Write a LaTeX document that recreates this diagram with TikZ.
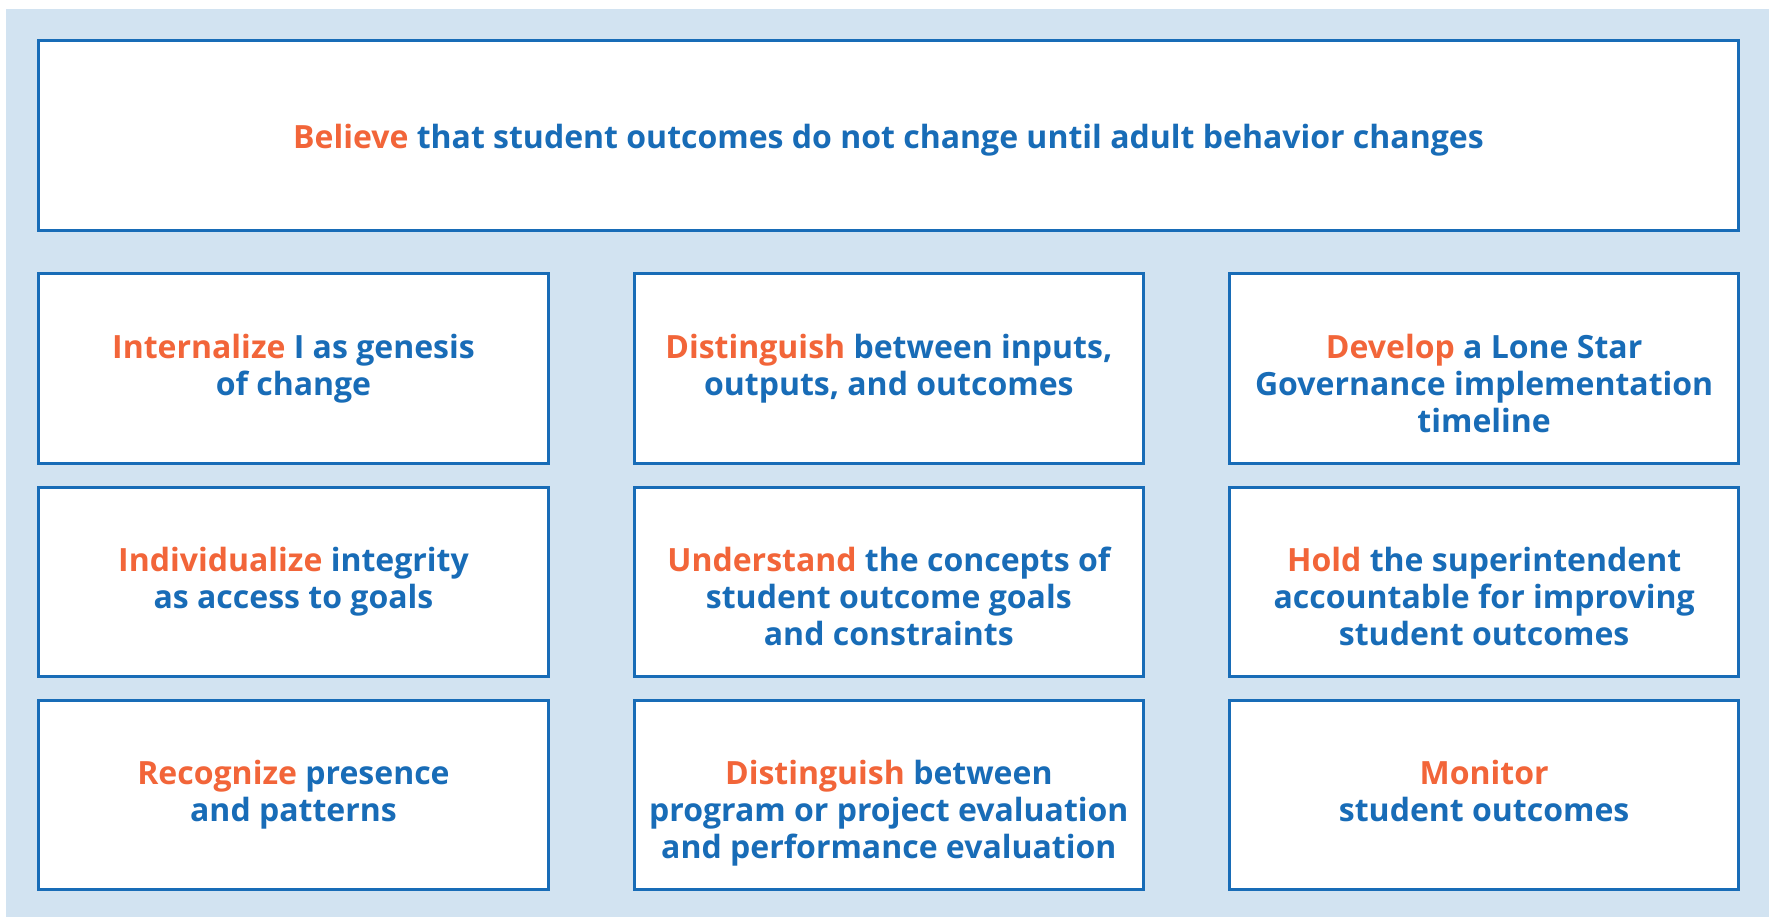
\documentclass[tikz,border=0pt]{standalone}
\usepackage{fontspec}
\setmainfont{Open Sans}
\usepackage{tikz}
\usetikzlibrary{positioning}
\definecolor{orange}{RGB}{242,101,57}
\definecolor{blue}{RGB}{24,108,183}
\definecolor{paleblue}{RGB}{210,227,241}
\newcommand{\actword}[1]{\textcolor{orange}{#1}}

\begin{document}
\begin{tikzpicture}[x=0.01cm, y=-0.01cm, node distance=0.21cm and 0.83cm,
box/.style={draw=blue, line width=0.85pt, fill=white, minimum width=5.09cm, minimum height=1.89cm, inner sep=0pt},
txt/.style={anchor=north, inner sep=0pt, align=center, text=blue, font=\fontsize{9.1}{10.45}\selectfont\bfseries, execute at begin node=\strut}]

% frame
\useasboundingbox (0,0) rectangle (1769,917);
\fill[paleblue] (6,9) rectangle (1769,917);

% boxes
\node [box, minimum width=16.99cm] (believe) at (888.5,135.5) {};

\node [box] (intern) at (293.5,368.5) {};
\node [box, right = of intern] (dist1) {};
\node [box, right = of dist1] (develop) {};

\node [box, below = of intern] (indiv) {};
\node [box, below = of dist1] (underst) {};
\node [box, below = of develop] (hold) {};

\node [box, below = of indiv] (recog) {};
\node [box, below = of underst] (dist2) {};
\node [box, below = of hold] (monitor) {};

% texts
\node [txt] (t-believe) at ([yshift=-23.5pt]believe.north) {\actword{Believe} that student outcomes do not change until adult behavior changes};

\node [txt] (t-intern) at ([yshift=-17.4pt]intern.north) {\actword{Internalize} I as genesis\\of change};
\node [txt] (t-dist1) at ([yshift=-17.4pt]dist1.north) {\actword{Distinguish} between inputs,\\outputs, and outcomes};
\node [txt] (t-develop) at ([yshift=-17.4pt]develop.north) {\actword{Develop} a Lone Star\\Governance implementation\\timeline};

\node [txt] (t-indiv) at ([yshift=-17.4pt]indiv.north) {\actword{Individualize} integrity\\as access to goals};
\node [txt] (t-underst) at ([yshift=-17.4pt]underst.north) {\actword{Understand} the concepts of\\student outcome goals\\and constraints};
\node [txt] (t-hold) at ([yshift=-17.4pt]hold.north) {\actword{Hold} the superintendent\\accountable for improving\\student outcomes};

\node [txt] (t-recog) at ([yshift=-17.4pt]recog.north) {\actword{Recognize} presence\\and patterns};
\node [txt] (t-dist2) at ([yshift=-17.4pt]dist2.north) {\actword{Distinguish} between\\program or project evaluation\\and performance evaluation};
\node [txt] (t-monitor) at ([yshift=-17.4pt]monitor.north) {\actword{Monitor}\\student outcomes};

\end{tikzpicture}
\end{document}
